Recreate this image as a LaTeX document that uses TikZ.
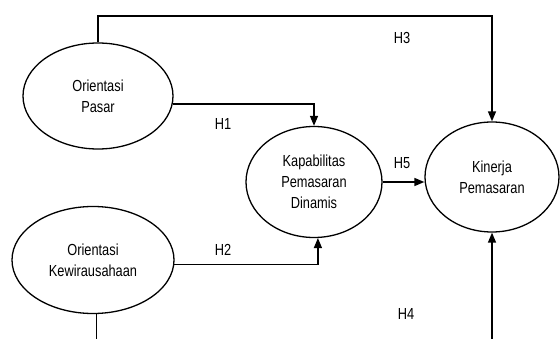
\documentclass[tikz,border=0pt]{standalone}
\usepackage{fontspec}
\setmainfont[FakeStretch=0.8]{Liberation Sans}
\usetikzlibrary{shapes.geometric,arrows.meta}
\begin{document}
\begin{tikzpicture}[x=1pt,y=-1pt,
  every node/.style={font=\fontsize{16}{21}\selectfont},
  latent/.style={ellipse,draw,line width=1.3pt,inner sep=0pt,align=center},
  conn/.style={line width=1.4pt},
  arr/.style={line width=1.4pt,-{Triangle[length=10pt,width=8pt]}},
  hlab/.style={inner sep=0pt}]
\useasboundingbox[fill=white] (0,0) rectangle (560,339);
\node[latent,minimum width=150pt,minimum height=106pt] (op) at (98,96) {Orientasi\\Pasar};
\node[latent,minimum width=162pt,minimum height=107pt] (ok) at (93,260) {Orientasi\\Kewirausahaan};
\node[latent,minimum width=136pt,minimum height=111pt] (kap) at (314,182) {Kapabilitas\\Pemasaran\\Dinamis};
\node[latent,minimum width=134pt,minimum height=110pt] (kin) at (492,177) {Kinerja\\Pemasaran};
\coordinate (top) at (98,16);
\coordinate (botL) at (97,339);
\coordinate (botR) at (493,339);
\draw[arr] (op.north) -- (op.north |- top) -| (kin.north);
\draw[arr] (op.-6) -| (kap.north);
\draw[arr] (ok.-3) -| (kap.-86);
\draw[arr] (kap.east) -- (kap.east -| kin.west);
\draw[conn] (ok.-86) -- (ok.-86 |- botL);
\draw[arr] (kin.south |- botR) -- (kin.south);
\node[hlab] (h1) at (223,124) {H1};
\node[hlab] (h2) at (223,250) {H2};
\node[hlab] (h3) at (402,38) {H3};
\node[hlab] (h4) at (406,314) {H4};
\node[hlab] (h5) at (402,163) {H5};
\end{tikzpicture}
\end{document}
